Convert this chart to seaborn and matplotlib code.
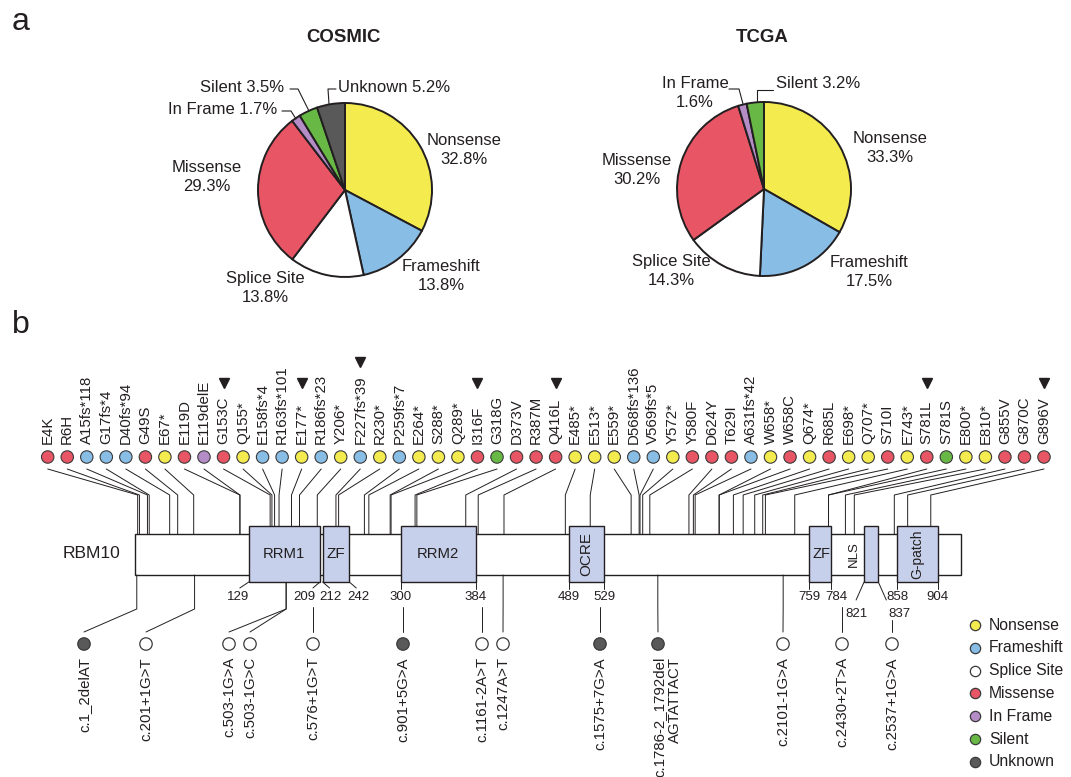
import numpy as np
import pandas as pd
import matplotlib
matplotlib.use("Agg")
import matplotlib.pyplot as plt
from matplotlib.patches import Rectangle
from matplotlib.transforms import offset_copy
import seaborn as sns

sns.set_theme(style="white")
plt.rcParams["font.family"] = ["Liberation Sans", "DejaVu Sans"]

INK = "#231f20"
W, H = 1071, 777

# ---------------- panel a data ----------------
type_names = ["Nonsense", "Frameshift", "Splice Site", "Missense", "In Frame", "Silent", "Unknown"]
type_colors = ["#f4eb4f", "#88bde6", "#ffffff", "#e85565", "#b48cc6", "#68b845", "#595959"]
cosmic_pct = [32.8, 13.8, 13.8, 29.3, 1.7, 3.5, 5.2]
tcga_pct = [33.3, 17.5, 14.3, 30.2, 1.6, 3.2]
palette = dict(zip(type_names, type_colors))

# ---------------- panel b data ----------------
protein_length = 930
domain_names = ["RRM1", "ZF", "RRM2", "OCRE", "ZF", "NLS", "G-patch"]
domain_start = [129, 212, 300, 489, 759, 821, 858]
domain_end = [209, 242, 384, 529, 784, 837, 904]

mut_labels = ["E4K", "R6H", "A15fs*118", "G17fs*4", "D40fs*94", "G49S", "E67*", "E119D",
              "E119delE", "G153C", "Q155*", "E158fs*4", "R163fs*101", "E177*", "R186fs*23",
              "Y206*", "F227fs*39", "R230*", "P259fs*7", "E264*", "S288*", "Q289*", "I316F",
              "G318G", "D373V", "R387M", "Q416L", "E485*", "E513*", "E559*", "D568fs*136",
              "V569fs*5", "Y572*", "Y580F", "D624Y", "T629I", "A631fs*42", "W658*", "W658C",
              "Q674*", "R685L", "E698*", "Q707*", "S710I", "E743*", "S781L", "S781S", "E800*",
              "E810*", "G855V", "G870C", "G896V"]
mut_pos = [4, 6, 15, 17, 40, 49, 67, 119, 119, 153, 155, 158, 163, 177, 186, 206, 227, 230,
           259, 264, 288, 289, 316, 318, 373, 387, 416, 485, 513, 559, 568, 569, 572, 580,
           624, 629, 631, 658, 658, 674, 685, 698, 707, 710, 743, 781, 781, 800, 810, 855,
           870, 896]
mut_types = ["Missense", "Missense", "Frameshift", "Frameshift", "Frameshift", "Missense",
             "Nonsense", "Missense", "In Frame", "Missense", "Nonsense", "Frameshift",
             "Frameshift", "Nonsense", "Frameshift", "Nonsense", "Frameshift", "Nonsense",
             "Frameshift", "Nonsense", "Nonsense", "Nonsense", "Missense", "Silent",
             "Missense", "Missense", "Missense", "Nonsense", "Nonsense", "Nonsense",
             "Frameshift", "Frameshift", "Nonsense", "Missense", "Missense", "Missense",
             "Frameshift", "Nonsense", "Missense", "Nonsense", "Missense", "Nonsense",
             "Nonsense", "Missense", "Nonsense", "Missense", "Silent", "Nonsense", "Nonsense",
             "Missense", "Missense", "Missense"]
hotspots = ["G153C", "E177*", "F227fs*39", "I316F", "Q416L", "S781L", "G896V"]

splice_labels = ["c.1_2delAT", "c.201+1G>T", "c.503-1G>A", "c.503-1G>C", "c.576+1G>T",
                 "c.901+5G>A", "c.1161-2A>T", "c.1247A>T", "c.1575+7G>A",
                 "c.1786-2_1792del\nAGTATTACT", "c.2101-1G>A", "c.2430+2T>A", "c.2537+1G>A"]
splice_types = ["Unknown", "Splice Site", "Splice Site", "Splice Site", "Splice Site",
                "Unknown", "Splice Site", "Splice Site", "Unknown", "Unknown",
                "Splice Site", "Splice Site", "Splice Site"]
splice_pos = [3, 68, 171, 171, 201, 302, 391, 415, 524, 589, 730, 796, 852]


# ---------------- layout helpers ----------------
def px2aa(px):
    return 1 + (px - 135) * (protein_length - 1) / 826


fig = plt.figure(figsize=(W / 100, H / 100), dpi=100)

# panel b axis: x in amino acids, y in pixels from the top
ax = fig.add_axes([0, 0, 1, 1])
ax.set_xlim(px2aa(0), px2aa(W))
ax.set_ylim(H, 0)
ax.axis("off")

# panel a axis: pixel grid, y up
axp = fig.add_axes([0, 0, 1, 1])
axp.patch.set_alpha(0)

fig.text(12 / W, 1 - 22 / H, "a", fontsize=23, color=INK, va="center")
fig.text(12 / W, 1 - 325 / H, "b", fontsize=23, color=INK, va="center")


def draw_pie(values, names, cx, cy, title, layout, leaders):
    cols = [palette[n] for n in names]
    axp.pie(values, colors=cols, startangle=90, counterclock=False,
            center=(cx, H - cy), radius=87,
            wedgeprops=dict(edgecolor=INK, linewidth=1.4))
    axp.text(cx - 2, H - 37, title, fontsize=13.4, fontweight="bold", color=INK,
             ha="center", va="center")
    for name, val in zip(names, values):
        x, y, ha, lines = layout[name]
        sep = "\n" if lines == 2 else " "
        axp.text(x, H - y, f"{name}{sep}{val}%", fontsize=12, color=INK, ha=ha,
                 va="center", multialignment="center", linespacing=1.4)
    for pts in leaders:
        pts = np.array(pts, dtype=float)
        axp.plot(pts[:, 0], H - pts[:, 1], color=INK, lw=0.8)


cosmic_layout = {
    "Nonsense": (464, 150, "center", 2),
    "Frameshift": (441, 276, "center", 2),
    "Splice Site": (265, 288, "center", 2),
    "Missense": (207, 177, "center", 2),
    "In Frame": (277, 110, "right", 1),
    "Silent": (284, 87, "right", 1),
    "Unknown": (338, 87, "left", 1),
}
cosmic_leaders = [[(282, 111), (291, 111), (296, 119)],
                  [(290, 89), (298, 89), (309, 111)],
                  [(336, 89), (328, 89), (329, 104)]]
tcga_layout = {
    "Nonsense": (890, 148, "center", 2),
    "Frameshift": (869, 272, "center", 2),
    "Splice Site": (671, 271, "center", 2),
    "Missense": (637, 170, "center", 2),
    "In Frame": (695, 93, "center", 2),
    "Silent": (776, 84, "left", 1),
}
tcga_leaders = [[(729, 89), (739, 89), (743, 104)],
                [(773, 90), (757, 90), (757, 102)]]

draw_pie(cosmic_pct, type_names, 345, 190, "COSMIC", cosmic_layout, cosmic_leaders)
draw_pie(tcga_pct, type_names[:6], 764, 189, "TCGA", tcga_layout, tcga_leaders)
axp.set_xlim(0, W)
axp.set_ylim(0, H)
axp.set_aspect("auto")
axp.axis("off")

# ---------------- protein bar ----------------
BAR_TOP, BAR_BOT = 534, 575
DOM_TOP, DOM_BOT = 526, 582
ax.add_patch(Rectangle((1, BAR_TOP), protein_length - 1, BAR_BOT - BAR_TOP,
                       facecolor="white", edgecolor=INK, lw=1.0, zorder=2))
dom_fc = "#c6d0ea"
dom_style = {  # rotation, font size, x offset in px, ha
    0: (0, 10.7, 0, "center"), 1: (0, 11, 0, "center"), 2: (0, 10.7, 0, "center"),
    3: (90, 11, 0, "center"), 4: (0, 10.5, 1, "center"), 5: (90, 9.5, -4, "right"),
    6: (90, 10, 0, "center"),
}
for i, (nm, s, e) in enumerate(zip(domain_names, domain_start, domain_end)):
    ax.add_patch(Rectangle((s, DOM_TOP), e - s, DOM_BOT - DOM_TOP,
                           facecolor=dom_fc, edgecolor=INK, lw=1.0, zorder=3))
    rot, fs, dx, ha = dom_style[i]
    x = s if ha == "right" else (s + e) / 2
    tr = offset_copy(ax.transData, fig=fig, x=dx, y=0, units="dots")
    ax.text(x, 554, nm, rotation=rot, fontsize=fs, color=INK, ha=ha, va="center",
            transform=tr, zorder=4)
ax.text(px2aa(91), 553, "RBM10", fontsize=12.6, color=INK, ha="center", va="center")

# boundary numbers: label dx, label y, tick dx, tick end y (pixels)
num_layout = {129: (-11, 597, -9, 588), 209: (-16, 597, -7, 588), 212: (8, 597, 7, 588),
              242: (9, 597, 7, 588), 300: (0, 597, 0, 589), 384: (0, 597, 0, 589),
              489: (0, 597, 0, 589), 529: (0, 597, 0, 589), 759: (0, 597, 0, 589),
              784: (5, 597, 0, 589), 821: (-8, 614, -8, 600), 837: (21, 614, 8, 600),
              858: (0, 597, 0, 589), 904: (0, 597, 0, 589)}
k = (protein_length - 1) / 826
for val in sorted(set(domain_start + domain_end)):
    ldx, ly, tdx, ty = num_layout[val]
    ax.plot([val, val + tdx * k], [DOM_BOT, ty], color=INK, lw=0.7)
    ax.text(val + ldx * k, ly, str(val), fontsize=9.5, color=INK, ha="center", va="center")


def top_of(aa):
    for s, e in zip(domain_start, domain_end):
        if s <= aa <= e:
            return DOM_TOP
    return BAR_TOP


def bottom_of(aa):
    for s, e in zip(domain_start, domain_end):
        if s <= aa <= e:
            return DOM_BOT
    return BAR_BOT


# ---------------- mutations above the protein ----------------
DOT_Y = 457
dot_x = np.linspace(px2aa(47.7), px2aa(1044), len(mut_labels))
for xd, p in zip(dot_x, mut_pos):
    ax.plot([xd, p, p], [469, 495, top_of(p)], color=INK, lw=0.7, zorder=1)

top_df = pd.DataFrame({"x": dot_x, "y": DOT_Y, "type": mut_types})
sns.scatterplot(data=top_df, x="x", y="y", hue="type", palette=palette, s=80,
                edgecolor="#3a3a3a", linewidth=0.8, legend=False, ax=ax, zorder=5)
texts = {}
for xd, lab in zip(dot_x, mut_labels):
    texts[lab] = ax.text(xd, 444, lab, rotation=90, fontsize=10.8, color=INK,
                         ha="center", va="bottom")

# ---------------- splice / unknown below the protein ----------------
SPL_Y = 644
spl_dot_px = [84, 146, 229, 250, 313, 403, 482, 503, 600, 658, 783, 842, 892]
spl_start = [None, None, None, None, 607, 607, 607, None, 607, None, None, 607, 620]
spl_x = [px2aa(v) for v in spl_dot_px]
for xd, p, st in zip(spl_x, splice_pos, spl_start):
    if st is None:
        ax.plot([p, p, xd], [bottom_of(p), 609, 632], color=INK, lw=0.7)
    else:
        ax.plot([xd, xd], [st, 632], color=INK, lw=0.7)
spl_df = pd.DataFrame({"x": spl_x, "y": SPL_Y, "type": splice_types})
sns.scatterplot(data=spl_df, x="x", y="y", hue="type", palette=palette, s=80,
                edgecolor="#3a3a3a", linewidth=0.9, legend=False, ax=ax, zorder=5)
for xd, lab in zip(spl_x, splice_labels):
    dx = 9 if "\n" in lab else 0
    tr = offset_copy(ax.transData, fig=fig, x=dx, y=0, units="dots")
    ax.text(xd, 657, lab, rotation=90, fontsize=10.8, color=INK, ha="center", va="top",
            multialignment="right", linespacing=1.2, transform=tr)

# ---------------- legend ----------------
for i, (nm, c) in enumerate(zip(type_names, type_colors)):
    yy = 625 + 22.8 * i
    ax.scatter([px2aa(975)], [yy], s=55, color=c, edgecolor="#3a3a3a", linewidth=0.9, zorder=5)
    ax.text(px2aa(989), yy, nm, fontsize=11.3, color=INK, ha="left", va="center")

# ---------------- hotspot triangles ----------------
fig.canvas.draw()
for lab in hotspots:
    bb = texts[lab].get_window_extent()
    ty = min(383, (H - bb.y1) - 13)
    ax.plot(texts[lab].get_position()[0], ty, marker="v", ms=7, color=INK, ls="none")

fig.savefig("out.png", dpi=100)
